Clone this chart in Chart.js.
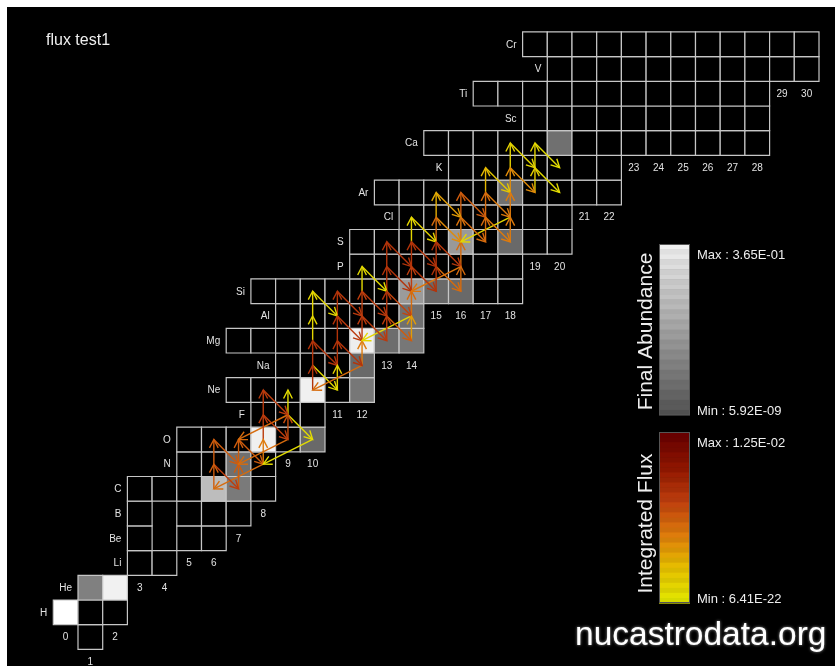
<!DOCTYPE html>
<html>
<head>
<meta charset="utf-8">
<script src="https://cdn.jsdelivr.net/npm/chart.js@4.4.1/dist/chart.umd.min.js"></script>
<style>
  html, body { margin: 0; padding: 0; background: #fff; overflow: hidden; }
  canvas { display: block; }
</style>
</head>
<body>
<canvas id="flux" width="835" height="666"></canvas>
<script>
// network rows, one entry per Z (0 = neutron)
const elements = ["n","H","He","Li","Be","B","C","N","O","F","Ne","Na","Mg","Al","Si","P","S","Cl","Ar","K","Ca","Sc","Ti","V","Cr"];
const firstN   = [1, 0, 1, 3, 3, 3, 3, 5, 5, 8, 7, 9, 7, 9, 8, 12, 12, 14, 13, 16, 15, 19, 17, 20, 19];
const lastN    = [1, 2, 2, 4, 6, 7, 8, 8, 10, 10, 12, 12, 14, 14, 18, 18, 20, 20, 22, 22, 28, 28, 28, 30, 30];
const missingN = [4, 4];   // Be8, B9
const missingZ = [4, 5];

// final abundance, as position on the grey colour bar (0 = min, 1 = max)
const abundN     = [0, 1, 2, 6, 7, 7, 8, 10, 10, 12, 12, 12, 13, 14, 14, 14, 15, 16, 16, 18, 18, 20];
const abundZ     = [1, 2, 2, 6, 6, 7, 8, 8, 10, 10, 11, 12, 12, 12, 13, 14, 14, 14, 16, 16, 18, 20];
const abundLevel = [1, .25, .92, .61, .22, .16, .91, .12, .91, .2, .12, .9, .14, .2, .16, .41, .12, .12, .4, .12, .16, .16];

// integrated flux: source nuclide, reaction type, position on flux colour bar
// pg = (p,g), b = beta+, pa = (p,a)
const rxN = [
  6,6,6,6,7,7,7,8,8,8,8,8,8,9,9,9,9,9,10,
  10,10,10,10,10,10,10,11,11,11,11,11,11,11,
  12,12,12,12,12,12,12,12,13,13,13,13,13,13,13,13,
  14,14,14,14,14,14,14,14,14,15,15,15,15,15,15,15,15,
  16,16,16,16,16,16,16,17,17,17,17,17,17,18,18,18,18,18,18,18,19,19,19,19];
const rxZ = [
  6,7,7,8,6,7,8,7,7,8,9,9,10,8,8,9,9,9,8,
  10,11,11,12,12,13,14,10,11,12,12,13,13,14,
  11,11,12,13,13,14,14,15,12,13,13,14,14,15,15,16,
  12,13,13,14,15,15,16,16,17,14,15,15,16,16,17,17,18,
  14,15,15,16,17,17,18,16,17,17,18,18,19,16,17,17,18,19,19,20,18,19,19,20];
const rxType = [
  "pg","pg","b","b","pg","pg","b","pa","pg","pg","pg","b","b","pg","pa","pa","pg","b","pa",
  "pg","pg","b","b","pg","pg","b","pg","pg","pg","b","pg","b","b",
  "pa","pg","pg","pg","b","pg","b","b","pg","pg","b","pg","b","pg","b","b",
  "pg","pa","pg","pg","pg","b","b","pg","b","pg","pg","b","pg","b","pg","b","b",
  "pg","pa","pg","pg","pg","b","b","pg","pg","b","pg","b","b","pg","pa","pg","pg","pg","b","b","pg","pg","b","b"];
const fluxLevel = [
  .5,.5,.6,.5,.5,.5,.5,.45,.4,.62,.62,.6,.6,.55,.45,.45,.05,.05,.05,
  .65,.65,.05,.65,.08,.08,.08,.1,.65,.65,.65,.65,.62,.62,
  .45,.4,.62,.6,.62,.06,.62,.06,.62,.65,.5,.65,.58,.65,.65,.65,
  .3,.08,.45,.6,.65,.65,.65,.08,.1,.65,.65,.45,.45,.62,.25,.35,.3,
  .45,.42,.45,.42,.5,.45,.5,.45,.45,.4,.22,.4,.15,.4,.08,.4,.35,.1,.35,.08,.12,.08,.05,.05];

const rxShift = { pg: [0, 1], b: [1, -1], pa: [-2, -1] };

const fluxStops = [[0, [226, 230, 0]], [0.2, [230, 190, 0]], [0.4, [222, 122, 12]],
                   [0.6, [190, 62, 14]], [0.8, [145, 22, 0]], [1, [104, 0, 0]]];

function fluxRGB(t) {
  for (let i = 1; i < fluxStops.length; i++) {
    if (t <= fluxStops[i][0]) {
      const a = fluxStops[i - 1], b = fluxStops[i];
      const f = (t - a[0]) / (b[0] - a[0]);
      return a[1].map((v, k) => Math.round(v + (b[1][k] - v) * f));
    }
  }
  return fluxStops[fluxStops.length - 1][1];
}
const fluxColor = t => { const c = fluxRGB(t); return `rgb(${c[0]},${c[1]},${c[2]})`; };
const grayColor = t => { const g = Math.round(85 + 170 * t); return `rgb(${g},${g},${g})`; };

// cells
const cells = [];
const cellFill = [];
elements.forEach((sym, z) => {
  for (let n = firstN[z]; n <= lastN[z]; n++) {
    if (missingN.some((m, i) => m === n && missingZ[i] === z)) continue;
    cells.push({ x: n, y: z });
    const k = abundN.findIndex((m, i) => m === n && abundZ[i] === z);
    cellFill.push(k >= 0 ? grayColor(abundLevel[k]) : '#000');
  }
});

const cellSize = chart => chart.scales.x.getPixelForValue(1) - chart.scales.x.getPixelForValue(0);

const datasets = [{
  data: cells,
  pointStyle: 'rect',
  pointRadius: ctx => (ctx.chart.scales.x ? cellSize(ctx.chart) : 24.7) * Math.SQRT1_2,
  backgroundColor: cellFill,
  borderColor: '#c6c6c6',
  borderWidth: 1.2,
  order: 100,
  clip: false
}];

rxN.forEach((n, i) => {
  const d = rxShift[rxType[i]];
  datasets.push({
    data: [{ x: n, y: rxZ[i] }, { x: n + d[0], y: rxZ[i] + d[1] }],
    showLine: true,
    borderColor: fluxColor(fluxLevel[i]),
    borderWidth: 1.4,
    pointRadius: 0,
    order: 50 - fluxLevel[i] * 10,
    clip: false
  });
});

const nucPlugin = {
  id: 'nuc',
  beforeDraw(chart) {
    const ctx = chart.ctx;
    ctx.save();
    ctx.fillStyle = '#fff';
    ctx.fillRect(0, 0, chart.width, chart.height);
    ctx.fillStyle = '#000';
    ctx.fillRect(7, 7, chart.width - 7, chart.height - 7);
    ctx.restore();
  },
  afterDatasetsDraw(chart) {
    const ctx = chart.ctx, xs = chart.scales.x, ys = chart.scales.y;
    ctx.save();
    ctx.lineWidth = 1.4;
    chart.data.datasets.forEach((ds, i) => {
      if (i === 0) return;
      const p0 = ds.data[0], p1 = ds.data[1];
      const x0 = xs.getPixelForValue(p0.x), y0 = ys.getPixelForValue(p0.y);
      const x1 = xs.getPixelForValue(p1.x), y1 = ys.getPixelForValue(p1.y);
      const ang = Math.atan2(y1 - y0, x1 - x0);
      const len = 9.5, spread = 0.48;
      ctx.strokeStyle = ds.borderColor;
      ctx.beginPath();
      ctx.moveTo(x1 - len * Math.cos(ang - spread), y1 - len * Math.sin(ang - spread));
      ctx.lineTo(x1, y1);
      ctx.lineTo(x1 - len * Math.cos(ang + spread), y1 - len * Math.sin(ang + spread));
      ctx.stroke();
    });
    ctx.restore();
  },
  afterDraw(chart) {
    const ctx = chart.ctx, xs = chart.scales.x, ys = chart.scales.y;
    const half = cellSize(chart) / 2;
    ctx.save();
    ctx.fillStyle = '#e2e2e2';
    ctx.font = "10px 'Liberation Sans', Arial, sans-serif";
    // element names left of each row
    ctx.textAlign = 'right';
    ctx.textBaseline = 'middle';
    elements.forEach((sym, z) => {
      if (z === 0) return;
      ctx.fillText(sym, xs.getPixelForValue(firstN[z]) - half - 6, ys.getPixelForValue(z) + 0.5);
    });
    // neutron numbers under the lowest cell of each column
    ctx.textAlign = 'center';
    for (let n = 0; n <= 30; n++) {
      const cellsInCol = cells.filter(c => c.x === n);
      if (!cellsInCol.length) continue;
      const zLow = Math.min(...cellsInCol.map(c => c.y));
      ctx.fillText(String(n), xs.getPixelForValue(n), ys.getPixelForValue(zLow - 1) + 0.5);
    }

    // title
    ctx.textAlign = 'left';
    ctx.textBaseline = 'alphabetic';
    ctx.fillStyle = '#eee';
    ctx.font = "16px 'Liberation Sans', Arial, sans-serif";
    ctx.fillText('flux test1', 46, 45);

    // colour bars
    const bars = [
      { y: 244, color: t => grayColor(t * 0.92), label: 'Final Abundance', max: 'Max : 3.65E-01', min: 'Min : 5.92E-09', cy: 331.5 },
      { y: 432, color: fluxColor, label: 'Integrated Flux', max: 'Max : 1.25E-02', min: 'Min : 6.41E-22', cy: 523.5 }
    ];
    const bx = 659, bw = 31, bh = 171, bands = 34;
    bars.forEach(b => {
      for (let i = 0; i < bands; i++) {
        const t = 1 - i / (bands - 1);
        ctx.fillStyle = b.color(t);
        ctx.fillRect(bx, b.y + i * bh / bands, bw, bh / bands + 0.6);
        if (i % 2) {
          ctx.fillStyle = 'rgba(0,0,0,0.05)';
          ctx.fillRect(bx, b.y + i * bh / bands, bw, bh / bands);
        }
      }
      ctx.strokeStyle = '#555';
      ctx.lineWidth = 1;
      ctx.strokeRect(bx + 0.5, b.y + 0.5, bw - 1, bh - 1);

      ctx.fillStyle = '#eee';
      ctx.font = "13px 'Liberation Sans', Arial, sans-serif";
      ctx.textAlign = 'left';
      ctx.textBaseline = 'middle';
      ctx.fillText(b.max, 697, b.y + 11);
      ctx.fillText(b.min, 697, b.y + bh - 4);

      ctx.save();
      ctx.translate(652, b.cy);
      ctx.rotate(-Math.PI / 2);
      ctx.textAlign = 'center';
      ctx.textBaseline = 'alphabetic';
      ctx.font = "21px 'Liberation Sans', Arial, sans-serif";
      ctx.fillText(b.label, 0, 0);
      ctx.restore();
    });

    // watermark
    ctx.font = "33.5px 'Liberation Sans', Arial, sans-serif";
    ctx.textAlign = 'left';
    ctx.textBaseline = 'alphabetic';
    ctx.shadowColor = 'rgba(170,170,170,0.9)';
    ctx.shadowBlur = 3;
    ctx.fillStyle = '#fff';
    ctx.fillText('nucastrodata.org', 575, 645);
    ctx.restore();
  }
};

new Chart(document.getElementById('flux'), {
  type: 'scatter',
  data: { datasets: datasets },
  options: {
    responsive: false,
    animation: false,
    devicePixelRatio: 1,
    events: [],
    layout: { padding: { left: 16.25, right: 3.65, top: 19.55, bottom: 4.25 } },
    scales: {
      x: { type: 'linear', min: -2, max: 31, display: false },
      y: { type: 'linear', min: -1, max: 25, display: false }
    },
    plugins: {
      legend: { display: false },
      tooltip: { enabled: false }
    }
  },
  plugins: [nucPlugin]
});
</script>
</body>
</html>
